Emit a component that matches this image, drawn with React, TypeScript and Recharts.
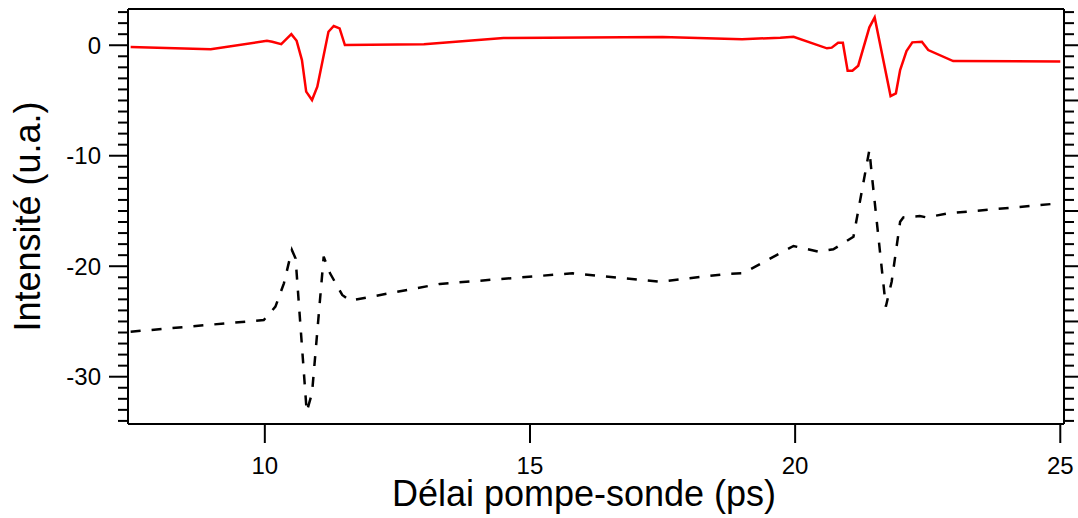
import React from 'react';
import { LineChart, Line, XAxis, YAxis, ReferenceLine } from 'recharts';

// red trace (top)
const RED_X = [7.47, 8.98, 10.04, 10.14, 10.31, 10.5, 10.6, 10.7, 10.78, 10.89, 10.99, 11.2, 11.3, 11.41, 11.51, 13.0, 14.5, 17.5, 19.0, 19.72, 19.97, 20.6, 20.69, 20.81, 20.9, 20.99, 21.08, 21.19, 21.4, 21.5, 21.8, 21.9, 21.98, 22.1, 22.21, 22.39, 22.51, 22.98, 25.0];
const RED_Y = [-0.16, -0.37, 0.4, 0.32, 0.1, 1.0, 0.4, -1.34, -4.2, -4.96, -3.75, 1.22, 1.74, 1.53, 0.02, 0.1, 0.65, 0.75, 0.55, 0.68, 0.77, -0.28, -0.22, 0.23, 0.23, -2.3, -2.3, -1.85, 1.62, 2.52, -4.6, -4.35, -2.24, -0.53, 0.26, 0.32, -0.44, -1.43, -1.47];

// black dashed trace (bottom)
const BLACK_X = [7.47, 9.98, 10.2, 10.36, 10.51, 10.58, 10.79, 10.89, 11.11, 11.23, 11.46, 11.61, 12.0, 13.3, 15.8, 17.45, 18.71, 19.02, 19.65, 19.97, 20.44, 20.72, 20.85, 21.1, 21.4, 21.44, 21.71, 21.82, 21.98, 22.04, 22.35, 22.48, 22.89, 25.0];
const BLACK_Y = [-25.93, -24.87, -23.66, -21.55, -18.53, -19.3, -33.17, -31.5, -19.14, -20.64, -22.6, -23.12, -22.76, -21.6, -20.64, -21.4, -20.7, -20.64, -18.99, -18.17, -18.69, -18.47, -18.08, -17.33, -9.48, -11.45, -23.66, -21.4, -15.97, -15.58, -15.46, -15.58, -15.21, -14.3];

const X_TICKS = [10, 15, 20, 25];
const X_DOMAIN = [7.42, 25.07];
const Y_DOMAIN = [-34.28, 3.28];
const Y_TICKS = Array.from({ length: 38 }, (_, i) => 3 - i); // every unit, -34..3

const redData = RED_X.map((x, i) => ({ x, y: RED_Y[i] }));
const blackData = BLACK_X.map((x, i) => ({ x, y: BLACK_Y[i] }));

const FONT = '"Liberation Sans", Arial, sans-serif';

const LeftTick = (props: any) => {
  const { x, y, payload } = props;
  const v = payload.value;
  const major = v % 10 === 0;
  const len = major ? 19 : 10;
  return (
    <g>
      <line x1={x - len} y1={y} x2={x} y2={y} stroke="#000" strokeWidth={2} />
      {major && (
        <text x={x - 27} y={y} textAnchor="end" dominantBaseline="central" fontSize={24} fontFamily={FONT} fill="#000">
          {v}
        </text>
      )}
    </g>
  );
};

const RightTick = (props: any) => {
  const { x, y, payload } = props;
  const len = payload.value % 5 === 0 ? 14 : 10;
  return <line x1={x} y1={y} x2={x + len} y2={y} stroke="#000" strokeWidth={2} />;
};

const YTitle = (props: any) => {
  const vb = props.viewBox || { x: 0, y: 9, width: 128, height: 415 };
  const cx = vb.x + 40;
  const cy = vb.y + vb.height / 2;
  return (
    <text x={cx} y={cy} transform={`rotate(-90, ${cx}, ${cy})`} textAnchor="middle" fontSize={36} fontFamily={FONT} fill="#000">
      Intensité (u.a.)
    </text>
  );
};

const XTitle = (props: any) => {
  const vb = props.viewBox || { x: 128, y: 424, width: 936, height: 94 };
  return (
    <text x={vb.x + vb.width / 2 - 12} y={506} textAnchor="middle" fontSize={36} fontFamily={FONT} fill="#000">
      Délai pompe-sonde (ps)
    </text>
  );
};

export default function App() {
  return (
    <div style={{ position: 'absolute', left: 0, top: 0, background: '#fff' }}>
      <LineChart width={1078} height={518} margin={{ top: 9, right: 0, bottom: 0, left: 0 }}>
        <XAxis
          dataKey="x"
          type="number"
          domain={X_DOMAIN}
          ticks={X_TICKS}
          allowDataOverflow
          height={94}
          tickSize={19}
          tickMargin={14}
          axisLine={{ stroke: '#000', strokeWidth: 2 }}
          tickLine={{ stroke: '#000', strokeWidth: 2 }}
          tick={{ fontSize: 24, fontFamily: FONT, fill: '#000' }}
          label={<XTitle />}
        />
        <YAxis
          yAxisId="left"
          type="number"
          domain={Y_DOMAIN}
          ticks={Y_TICKS}
          allowDataOverflow
          interval={0}
          width={128}
          tickSize={0}
          tickMargin={0}
          axisLine={{ stroke: '#000', strokeWidth: 2 }}
          tickLine={false}
          tick={LeftTick}
          label={<YTitle />}
        />
        <YAxis
          yAxisId="right"
          orientation="right"
          type="number"
          domain={Y_DOMAIN}
          ticks={Y_TICKS}
          allowDataOverflow
          interval={0}
          width={14}
          tickSize={0}
          tickMargin={0}
          axisLine={{ stroke: '#000', strokeWidth: 2 }}
          tickLine={false}
          tick={RightTick}
        />
        <ReferenceLine yAxisId="left" y={Y_DOMAIN[1]} stroke="#000" strokeWidth={2} />
        <Line
          yAxisId="left"
          data={redData}
          dataKey="y"
          type="linear"
          stroke="#ff0000"
          strokeWidth={2.5}
          dot={false}
          isAnimationActive={false}
        />
        <Line
          yAxisId="right"
          data={blackData}
          dataKey="y"
          type="linear"
          stroke="#000"
          strokeWidth={2.5}
          strokeDasharray="10 11"
          dot={false}
          isAnimationActive={false}
        />
      </LineChart>
    </div>
  );
}
